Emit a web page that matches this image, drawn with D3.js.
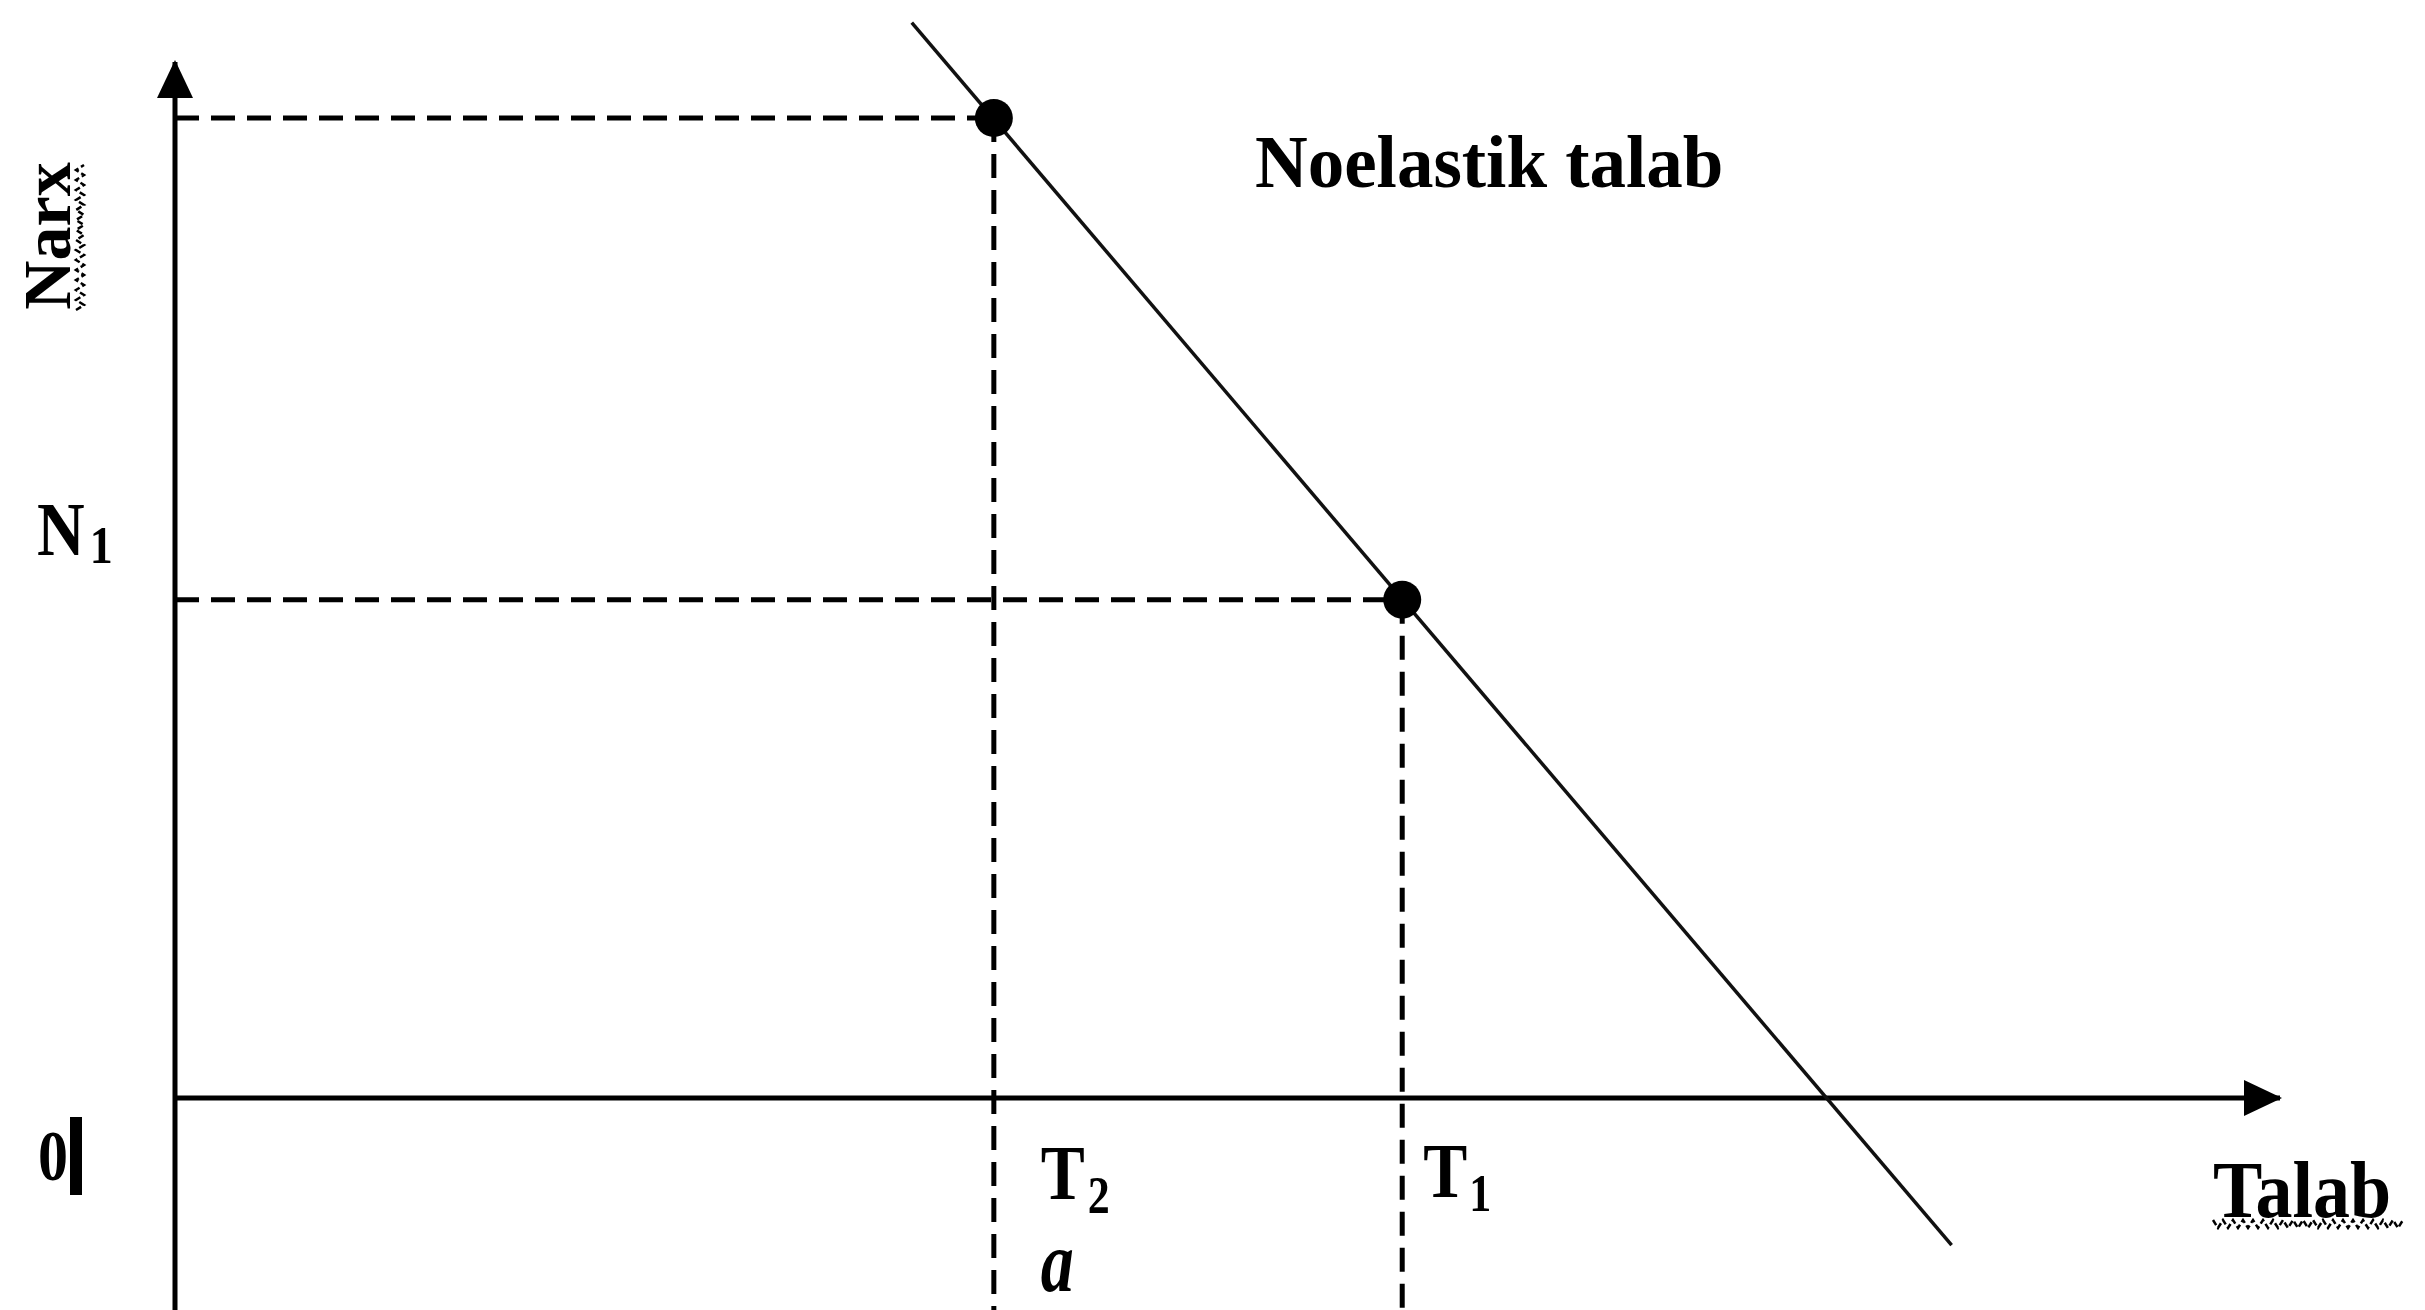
<!DOCTYPE html>
<html lang="uz">
<head>
    <meta charset="UTF-8">
    <title>Noelastik talab</title>
    <script src="https://d3js.org/d3.v7.min.js"></script>
    <style>
        body {
            margin: 0;
            padding: 0;
            background-color: #fff;
        }
        svg text {
            font-family: "Liberation Serif", "DejaVu Serif", serif;
            font-weight: bold;
            fill: #000;
        }
    </style>
</head>
<body>
    <svg id="chart" width="2425" height="1310"></svg>
    <script>
        // Data (axis units 0..100)
        var talab = [38.9, 58.3];       // T2, T1
        var narx = [94.6, 48.1];        // price at T2, price at N1
        var demandTalab = [35.0, 84.4]; // demand line ends
        var demandNarx = [103.8, -14.2];
        var axisBottom = -20.5;         // axes run below the origin

        var svg = d3.select("#chart"),
            width = +svg.attr("width"),
            height = +svg.attr("height");

        svg.append("rect").attr("width", width).attr("height", height).attr("fill", "#fff");

        var x = d3.scaleLinear().domain([0, 100]).range([175, 2280]);
        var y = d3.scaleLinear().domain([0, 100]).range([1098, 62]);

        // arrow heads
        svg.append("defs").append("marker")
            .attr("id", "arrow")
            .attr("markerUnits", "userSpaceOnUse")
            .attr("viewBox", "0 -19 38 38")
            .attr("refX", 36).attr("refY", 0)
            .attr("markerWidth", 38).attr("markerHeight", 38)
            .attr("orient", "auto")
            .append("path")
            .attr("d", "M0,-18L38,0L0,18Z")
            .attr("fill", "#000");

        // dashed guide lines
        var guides = svg.append("g")
            .attr("stroke", "#000")
            .attr("stroke-width", 5)
            .attr("stroke-dasharray", "24 12");

        talab.forEach(function(t, i) {
            guides.append("line")
                .attr("x1", x(0)).attr("x2", x(t))
                .attr("y1", y(narx[i])).attr("y2", y(narx[i]));
            guides.append("line")
                .attr("x1", x(t)).attr("x2", x(t))
                .attr("y1", y(narx[i])).attr("y2", y(axisBottom));
        });

        // axes
        svg.append("line")
            .attr("x1", x(0)).attr("x2", x(0))
            .attr("y1", y(axisBottom)).attr("y2", y(100))
            .attr("stroke", "#000").attr("stroke-width", 5)
            .attr("marker-end", "url(#arrow)");
        svg.append("line")
            .attr("x1", x(0)).attr("x2", x(100))
            .attr("y1", y(0)).attr("y2", y(0))
            .attr("stroke", "#000").attr("stroke-width", 5)
            .attr("marker-end", "url(#arrow)");

        // demand line
        var line = d3.line()
            .x(function(d) { return x(d[0]); })
            .y(function(d) { return y(d[1]); });
        svg.append("path")
            .datum(d3.zip(demandTalab, demandNarx))
            .attr("d", line)
            .attr("fill", "none")
            .attr("stroke", "#111")
            .attr("stroke-width", 3.5);

        // points
        svg.selectAll("circle.pt")
            .data(d3.zip(talab, narx))
            .enter().append("circle")
            .attr("class", "pt")
            .attr("cx", function(d) { return x(d[0]); })
            .attr("cy", function(d) { return y(d[1]); })
            .attr("r", 19)
            .attr("fill", "#000");

        // text helper: scaled text with optional subscript
        function label(px, py, main, size, sy, sub, subSize, dx, dy, italic) {
            var t = svg.append("text")
                .attr("transform", "translate(" + px + "," + py + ") scale(1," + sy + ")")
                .style("font-size", size + "px");
            if (italic) t.style("font-style", "italic");
            t.append("tspan").text(main);
            if (sub) {
                t.append("tspan")
                    .attr("dx", dx).attr("dy", dy)
                    .style("font-size", subSize + "px")
                    .text(sub);
            }
            return t;
        }

        // squiggly spell-check underline
        function squiggle(x0, y0, len, vertical) {
            var pts = [];
            for (var s = 0; s <= len; s += 5) {
                var off = (s / 5) % 2 ? 4 : -4;
                pts.push(vertical ? [x0 + off, y0 - s] : [x0 + s, y0 + off]);
            }
            svg.append("path")
                .attr("d", d3.line()(pts))
                .attr("fill", "none")
                .attr("stroke", "#000")
                .attr("stroke-width", 2.5)
                .attr("stroke-dasharray", "6 3");
        }

        // title
        label(1255, 187, "Noelastik talab", 73, 1, null);

        // y axis title
        svg.append("text")
            .attr("transform", "translate(70,236) rotate(-90)")
            .attr("text-anchor", "middle")
            .style("font-size", "68px")
            .text("Narx");
        squiggle(80, 310, 145, true);

        // N1
        label(x(0) - 138, y(narx[1]) - 45, "N", 66, 1.15, "1", 46, 5, 7);

        // T2, a, T1
        label(x(talab[0]) + 47, y(0) + 101, "T", 66, 1.2, "2", 44, 3, 12);
        label(x(talab[0]) + 47, y(0) + 193, "a", 66, 1.3, null, 0, 0, 0, true);
        label(x(talab[1]) + 21, y(0) + 99, "T", 66, 1.2, "1", 44, 2, 12);

        // origin
        label(38, 1180, "0", 60, 1.2, null);
        svg.append("rect")
            .attr("x", 70).attr("y", 1117)
            .attr("width", 12).attr("height", 78)
            .attr("fill", "#000");

        // x axis title
        label(2213, 1217, "Talab", 74, 1.1, null);
        squiggle(2213, 1224, 190, false);
    </script>
</body>
</html>
